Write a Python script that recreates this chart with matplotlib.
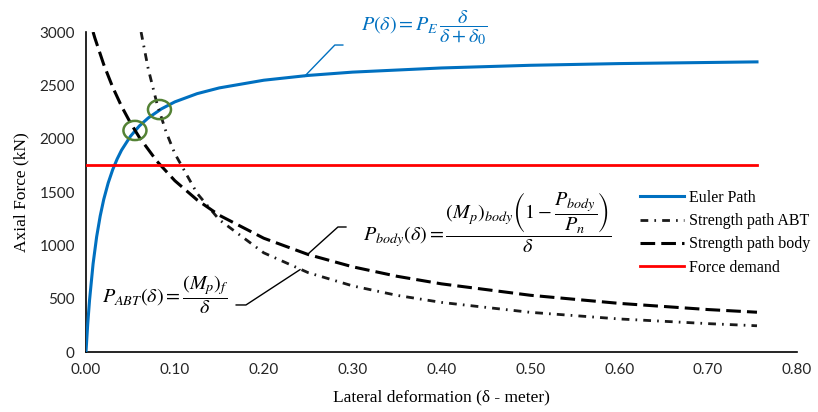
import matplotlib
matplotlib.use("Agg")
import matplotlib.pyplot as plt
from matplotlib.patches import Ellipse

plt.rcParams['mathtext.fontset'] = 'stix'

# values
delta_euler = [0, 0.002, 0.004, 0.008, 0.012, 0.016, 0.020, 0.025, 0.030, 0.035,
               0.040, 0.050, 0.060, 0.070, 0.085, 0.10, 0.125, 0.15, 0.20, 0.25,
               0.30, 0.40, 0.50, 0.60, 0.755]
P_euler = [0, 266, 485, 827, 1080, 1275, 1431, 1585, 1708, 1808,
           1892, 2022, 2119, 2194, 2280, 2345, 2422, 2476, 2548, 2593,
           2624, 2663, 2688, 2704, 2720]

delta_abt = [0.062, 0.07, 0.08, 0.09, 0.10, 0.125, 0.15, 0.20, 0.25, 0.30,
             0.35, 0.40, 0.50, 0.60, 0.70, 0.755]
P_abt = [3000, 2657, 2325, 2067, 1860, 1488, 1240, 930, 744, 620,
         531, 465, 372, 310, 266, 246]

delta_body = [0.008, 0.01, 0.02, 0.03, 0.04, 0.05, 0.06, 0.08, 0.10, 0.125, 0.15,
              0.20, 0.25, 0.30, 0.35, 0.40, 0.50, 0.60, 0.70, 0.755]
P_body = [3000, 2944, 2695, 2484, 2304, 2149, 2013, 1787, 1606, 1426, 1282,
          1067, 914, 799, 710, 639, 532, 456, 398, 373]

delta_demand = [0, 0.755]
P_demand = [1752, 1752]

# intersection markers (delta, P)
crossings = [(0.0551, 2077), (0.0827, 2273)]

xticks = [0, 0.1, 0.2, 0.3, 0.4, 0.5, 0.6, 0.7, 0.8]
yticks = [0, 500, 1000, 1500, 2000, 2500, 3000]

fig = plt.figure(figsize=(8.18, 4.12), dpi=100)
ax = fig.add_axes([0.1051, 0.1456, 0.8692, 0.7767])

ax.plot(delta_euler, P_euler, color='#0070C0', lw=2.2, label='Euler Path', zorder=3)
ax.plot(delta_abt, P_abt, color='#1a1a1a', lw=2.0, linestyle=(0, (2.8, 2.2, 0.6, 2.2)),
        label='Strength path ABT', zorder=3)
ax.plot(delta_body, P_body, color='black', lw=2.2, linestyle=(0, (4.8, 2.0)),
        label='Strength path body', zorder=3)
ax.plot(delta_demand, P_demand, color='#FF0000', lw=2.0, label='Force demand', zorder=3)

for cx, cy in crossings:
    ax.add_patch(Ellipse((cx, cy), 0.0259, 180, fill=False, edgecolor='#548235', lw=1.8, zorder=4))

# formula labels with leader lines
ax.text(0.381, 3040, r'$P(\delta) = P_E\,\dfrac{\delta}{\delta+\delta_0}$', color='#0070C0',
        fontsize=14.5, ha='center', va='center', clip_on=False)
ax.plot([0.246, 0.280, 0.289], [2585, 2878, 2878], color='#0070C0', lw=1, clip_on=False)

ax.text(0.452, 1209,
        r'$P_{body}(\delta) = \dfrac{\left(M_p\right)_{body}\left(1-\dfrac{P_{body}}{P_n}\right)}{\delta}$',
        fontsize=14.5, ha='center', va='center')
ax.plot([0.2498, 0.2835, 0.2925], [919, 1172, 1172], color='black', lw=1)

ax.text(0.090, 534, r'$P_{ABT}(\delta) = \dfrac{\left(M_p\right)_f}{\delta}$',
        fontsize=14.5, ha='center', va='center')
ax.plot([0.2408, 0.180, 0.169], [772, 441, 441], color='black', lw=1)

ax.set_xlim(0, 0.8)
ax.set_ylim(0, 3000)
ax.set_xticks(xticks)
ax.set_xticklabels([f'{v:.2f}' for v in xticks])
ax.set_yticks(yticks)
ax.set_yticklabels([str(v) for v in yticks])
for lab in ax.get_xticklabels() + ax.get_yticklabels():
    lab.set_family('Lato')
    lab.set_fontsize(11)
    lab.set_color('#262626')
ax.tick_params(length=0, pad=8)

for s in ['top', 'right']:
    ax.spines[s].set_visible(False)
for s in ['left', 'bottom']:
    ax.spines[s].set_color('black')
    ax.spines[s].set_linewidth(1.2)

ax.set_xlabel('Lateral deformation (δ - meter)', family='Liberation Serif', fontsize=12.5, labelpad=9)
ax.set_ylabel('Axial Force (kN)', family='Liberation Serif', fontsize=12.5, labelpad=7)

leg = ax.legend(loc='upper left', bbox_to_anchor=(640 / 818, 1 - 190 / 412),
                bbox_transform=fig.transFigure, frameon=False,
                prop={'family': 'Liberation Serif', 'size': 11.5},
                handlelength=2.75, handletextpad=0.3, labelspacing=0.45, borderpad=0, borderaxespad=0)

fig.savefig('out.png', dpi=100)
